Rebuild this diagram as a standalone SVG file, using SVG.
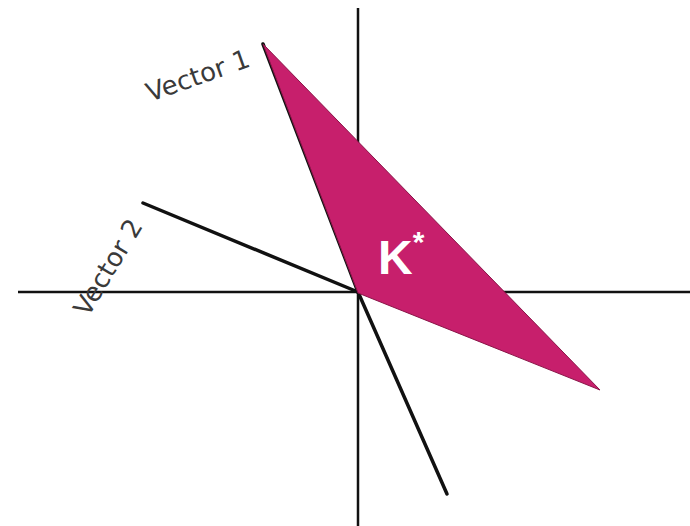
<svg xmlns="http://www.w3.org/2000/svg" width="690" height="526" viewBox="0 0 690 526">
<style>
.axis{stroke:#111;stroke-width:2.5;fill:none}
.vec{stroke:#111;stroke-width:3.5;fill:none;stroke-linecap:round}
.lbl{font-family:"DejaVu Sans","Liberation Sans",sans-serif;font-size:26px;fill:#3a3a3a;font-weight:normal}
.k{font-family:"Liberation Sans",Arial,sans-serif;font-weight:bold;fill:#fff}
</style>
<rect width="690" height="526" fill="#fff"/>
<g id="connectors">
<line class="axis" x1="358" y1="8" x2="358" y2="526"/>
<line class="axis" x1="18" y1="292" x2="690" y2="292"/>
<line class="vec" x1="143" y1="203" x2="358" y2="292"/>
<line class="vec" x1="358" y1="292" x2="447" y2="494"/>
<line class="vec" x1="358" y1="292" x2="263" y2="44"/>
</g>
<g id="cone">
<polygon points="263,44 600,390 358,293" fill="#C71F6C" stroke="#8a1548" stroke-width="1"/>
<text class="k" x="378" y="274" font-size="48">K<tspan font-size="30" dy="-22">*</tspan></text>
</g>
<g id="vector1-label">
<text class="lbl" transform="translate(150,102) rotate(-19.5)">Vector 1</text>
</g>
<g id="vector2-label">
<text class="lbl" transform="translate(88,318) rotate(-59)">Vector 2</text>
</g>
</svg>
